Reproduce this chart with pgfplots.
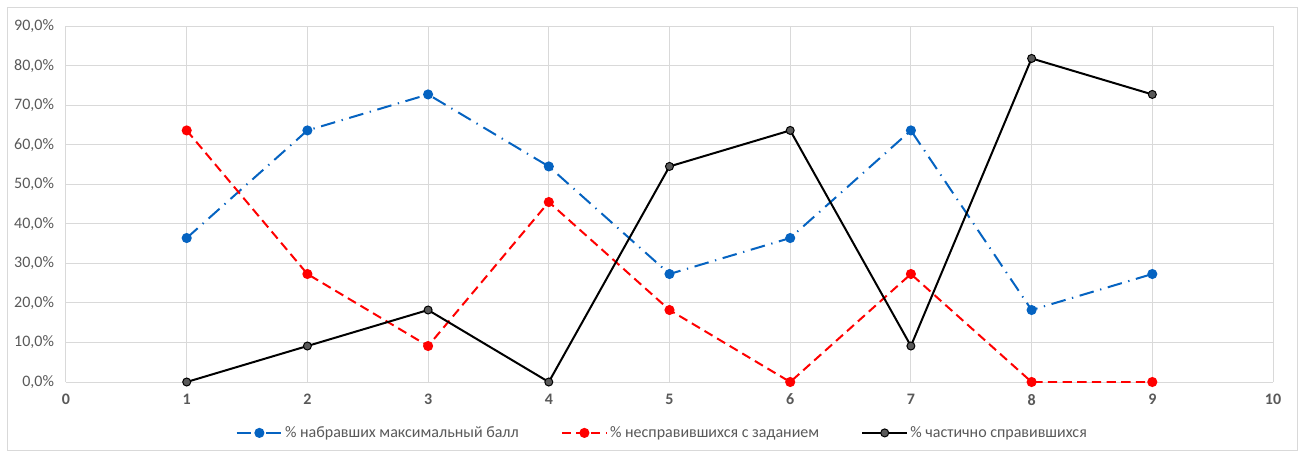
\documentclass[border=0pt]{standalone}
\usepackage{pgfplots}
\pgfplotsset{compat=1.18}
\usepackage{fontspec}
\setmainfont{Carlito}
\definecolor{gridc}{HTML}{D9D9D9}
\definecolor{tickc}{HTML}{595959}
\definecolor{xblue}{HTML}{0563C1}
\definecolor{mgray}{HTML}{595959}
\begin{document}
\begin{tikzpicture}
\draw[draw=gridc, line width=0.75pt, fill=white] (5.25pt,3pt) rectangle (972.75pt,334.5pt);
\path[use as bounding box] (0pt,0pt) rectangle (977.25pt,340.5pt);
\begin{axis}[
  at={(49.5pt,54pt)}, anchor=south west,
  scale only axis, width=905.25pt, height=267pt,
  xmin=0, xmax=10, ymin=0, ymax=90,
  xtick={0,1,...,10}, ytick={0,10,...,90},
  yticklabels={{0,0\%},{10,0\%},{20,0\%},{30,0\%},{40,0\%},{50,0\%},{60,0\%},{70,0\%},{80,0\%},{90,0\%}},
  xticklabels={\textbf{0},\textbf{1},\textbf{2},\textbf{3},\textbf{4},\textbf{5},\textbf{6},\textbf{7},\textbf{8},\textbf{9},\textbf{10}},
  grid=major, grid style={draw=gridc, line width=0.75pt},
  axis line style={draw=none},
  major tick length=0pt,
  tick label style={font=\fontsize{12}{14}\selectfont, text=tickc},
  yticklabel style={xshift=-5.5pt},
  xticklabel style={yshift=-5.5pt},
  legend style={at={(0.494,-0.143)}, anchor=center, draw=none, fill=none,
    font=\fontsize{12}{14}\selectfont, text=tickc, legend columns=3,
    inner sep=0pt, nodes={inner sep=1.5pt},
    /tikz/every even column/.append style={column sep=30pt}},
  legend cell align=left,
  legend image code/.code={
    \draw[#1,mark=none] (0pt,0pt) -- (34pt,0pt);
    \draw[#1,solid,only marks] plot coordinates {(17pt,0pt)};
  },
]
\addplot[xblue, line width=1.5pt, dash pattern=on 11pt off 5pt on 1pt off 5pt, mark=*, mark size=3pt, mark options={solid, fill=xblue, draw=xblue}]
  coordinates {(1,36.4)(2,63.6)(3,72.7)(4,54.5)(5,27.3)(6,36.4)(7,63.6)(8,18.2)(9,27.3)};
\addlegendentry{\% набравших максимальный балл}
\addplot[red, line width=1.5pt, dash pattern=on 7pt off 4pt, mark=*, mark size=3pt, mark options={solid, fill=red, draw=red}]
  coordinates {(1,63.6)(2,27.3)(3,9.1)(4,45.5)(5,18.2)(6,0)(7,27.3)(8,0)(9,0)};
\addlegendentry{\% несправившихся с заданием}
\addplot[black, line width=1.5pt, mark=*, mark size=3pt, mark options={solid, fill=mgray, draw=black, line width=0.75pt}]
  coordinates {(1,0)(2,9.1)(3,18.2)(4,0)(5,54.5)(6,63.6)(7,9.1)(8,81.8)(9,72.7)};
\addlegendentry{\% частично справившихся}
\end{axis}
\end{tikzpicture}
\end{document}
